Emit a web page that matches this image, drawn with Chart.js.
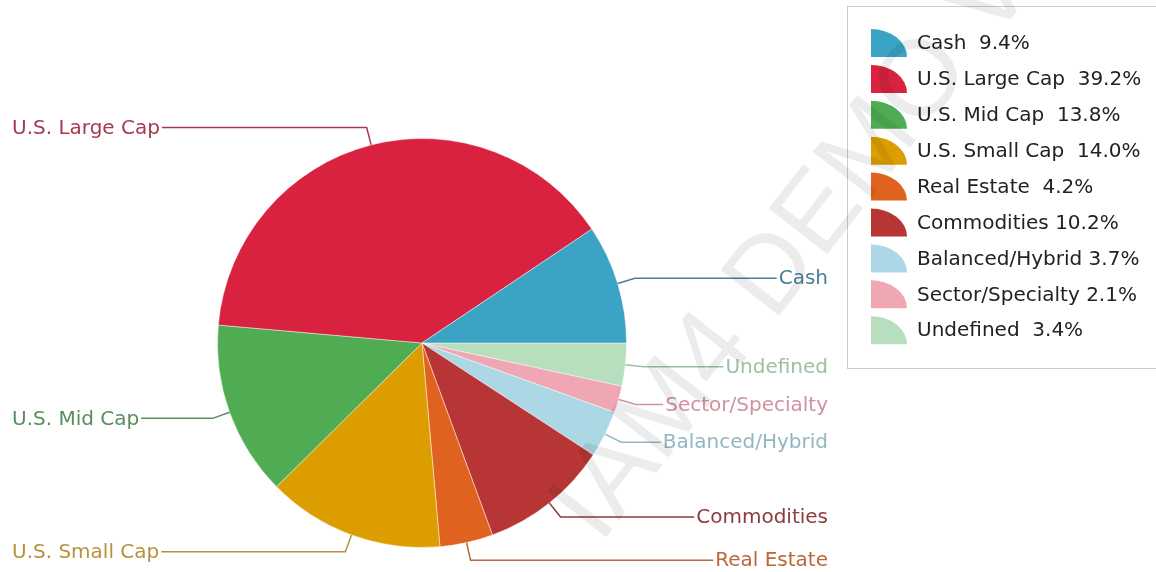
<!DOCTYPE html>
<html>
<head>
<meta charset="utf-8">
<script src="https://cdn.jsdelivr.net/npm/chart.js@4"></script>
<style>
  body { margin: 0; background: #fff; }
  #wrap { width: 1156px; height: 572px; position: relative; }
</style>
</head>
<body>
<div id="wrap"><canvas id="alloc"></canvas></div>
<script>
const categories = ["Cash", "U.S. Large Cap", "U.S. Mid Cap", "U.S. Small Cap", "Real Estate", "Commodities", "Balanced/Hybrid", "Sector/Specialty", "Undefined"];
const shares = [9.4, 39.2, 13.8, 14.0, 4.2, 10.2, 3.7, 2.1, 3.4];
const legendLabels = ["Cash  9.4%", "U.S. Large Cap  39.2%", "U.S. Mid Cap  13.8%", "U.S. Small Cap  14.0%", "Real Estate  4.2%", "Commodities 10.2%", "Balanced/Hybrid 3.7%", "Sector/Specialty 2.1%", "Undefined  3.4%"];
const sliceColors = ["#3ba4c4", "#d9223f", "#4fac53", "#dc9d00", "#e0621f", "#b73534", "#abd8e4", "#f0a7b4", "#b8dfbd"];
const labelColors = ["#4a7f96", "#a53a50", "#5a8d5d", "#b8913e", "#b8683a", "#8c3b3c", "#93b7c2", "#cf929e", "#9dc0a1"];

// slices go counter-clockwise from 3 o'clock in the picture, Chart.js draws clockwise
const order = categories.map((c, i) => i).reverse();

const FONT = '20px "DejaVu Sans"';

const callouts = {
  id: "callouts",
  afterDatasetsDraw(chart) {
    const ctx = chart.ctx;
    const arcs = chart.getDatasetMeta(0).data;
    ctx.save();
    ctx.font = FONT;
    ctx.textBaseline = "middle";
    ctx.lineWidth = 1.5;
    arcs.forEach((arc, j) => {
      const i = order[j];
      const mid = (arc.startAngle + arc.endAngle) / 2;
      const r = arc.outerRadius;
      const x1 = arc.x + Math.cos(mid) * r, y1 = arc.y + Math.sin(mid) * r;
      const x2 = arc.x + Math.cos(mid) * (r + 18), y2 = arc.y + Math.sin(mid) * (r + 18);
      const w = ctx.measureText(categories[i]).width;
      const right = Math.cos(mid) >= 0;
      const x3 = right ? 828 - w - 2 : 12 + w + 2;
      ctx.textAlign = right ? "right" : "left";
      ctx.strokeStyle = labelColors[i];
      ctx.beginPath();
      ctx.moveTo(x1, y1);
      ctx.lineTo(x2, y2);
      ctx.lineTo(x3, y2);
      ctx.stroke();
      ctx.fillStyle = labelColors[i];
      ctx.fillText(categories[i], right ? 828 : 12, y2 + 1);
    });
    ctx.restore();
  },
  afterDraw(chart) {
    const ctx = chart.ctx;
    ctx.save();
    // legend box
    ctx.strokeStyle = "#cccccc";
    ctx.lineWidth = 1;
    ctx.strokeRect(847.5, 6.5, 400, 362);
    ctx.font = FONT;
    ctx.textBaseline = "middle";
    ctx.textAlign = "left";
    categories.forEach((c, i) => {
      const y = 43 + i * 35.9;
      ctx.fillStyle = sliceColors[i];
      ctx.beginPath();
      ctx.moveTo(871, y + 14);
      ctx.ellipse(871, y + 14, 36, 28, 0, -Math.PI / 2, 0);
      ctx.closePath();
      ctx.fill();
      ctx.fillStyle = "#222";
      ctx.fillText(legendLabels[i], 917, y + 1);
    });
    // watermark
    ctx.translate(600, 545);
    ctx.rotate(-52 * Math.PI / 180);
    ctx.font = '108px "Liberation Sans"';
    ctx.fillStyle = "rgba(0,0,0,0.075)";
    ctx.textBaseline = "alphabetic";
    ctx.fillText("IAM4 DEMO VERSION", 0, 0);
    ctx.restore();
  }
};

new Chart(document.getElementById("alloc"), {
  type: "pie",
  data: {
    labels: order.map(i => categories[i]),
    datasets: [
      {
        data: order.map(i => shares[i]),
        backgroundColor: order.map(i => sliceColors[i]),
        borderColor: "rgba(255,255,255,0.45)",
        borderWidth: 1,
      },
    ],
  },
  options: {
    responsive: true,
    maintainAspectRatio: false,
    animation: false,
    events: [],
    rotation: 90,
    layout: { padding: { left: 217, top: 138, right: 529, bottom: 24 } },
    plugins: {
      legend: { display: false },
      tooltip: { enabled: false },
    },
  },
  plugins: [callouts],
});
</script>
</body>
</html>
